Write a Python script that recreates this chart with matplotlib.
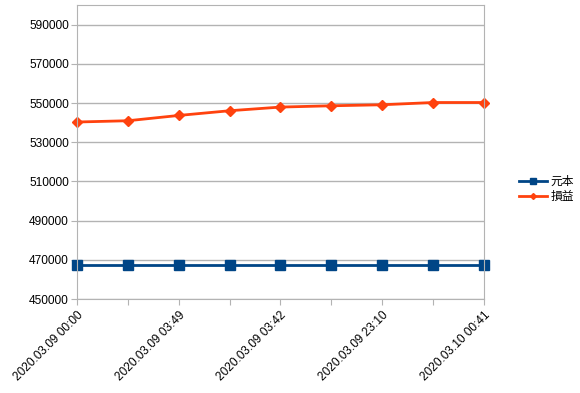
import numpy as np
from matplotlib import pyplot as plt

plt.rcParams['font.family'] = ['Liberation Sans', 'Noto Sans CJK SC', 'DejaVu Sans']

labels = ['2020.03.09 00:00', '', '2020.03.09 03:49', '', '2020.03.09 03:42', '',
          '2020.03.09 23:10', '', '2020.03.10 00:41']
genpon = [467200, 467200, 467200, 467200, 467200, 467200, 467200, 467200, 467200]  # 元本
soneki = [540350, 541000, 543700, 546100, 547970, 548630, 549140, 550300, 550300]  # 損益

x = np.arange(len(labels))
fig = plt.figure(figsize=(5.8, 3.93), dpi=100)
ax = fig.add_axes([0.133, 0.239, 0.701, 0.748])

ax.plot(x, genpon, color='#004586', lw=2, marker='s', ms=7, label='元本', clip_on=False)
ax.plot(x, soneki, color='#ff420e', lw=2, marker='D', ms=5, label='損益', clip_on=False)

ax.set_xlim(0, len(labels) - 1)
ax.set_ylim(450000, 600000)
ax.set_yticks(np.arange(450000, 600000, 20000))
ax.set_xticks(x)
ax.set_xticklabels(labels, rotation=45, ha='right', rotation_mode='anchor', fontsize=8.6)
ax.tick_params(axis='y', labelsize=8.6, length=4, color='#b3b3b3', pad=2)
ax.tick_params(axis='x', length=4, color='#b3b3b3', pad=3)
ax.grid(axis='y', color='#b3b3b3', lw=1)
for s in ax.spines.values():
    s.set_color('#b3b3b3')
ax.set_axisbelow(True)

ax.legend(loc='center left', bbox_to_anchor=(1.06, 0.375), frameon=False,
          prop={'family': ['Noto Sans CJK SC'], 'size': 8.5}, handlelength=2.4,
          labelspacing=0.15, handletextpad=0.3, markerscale=0.6)

plt.savefig('out.png')
